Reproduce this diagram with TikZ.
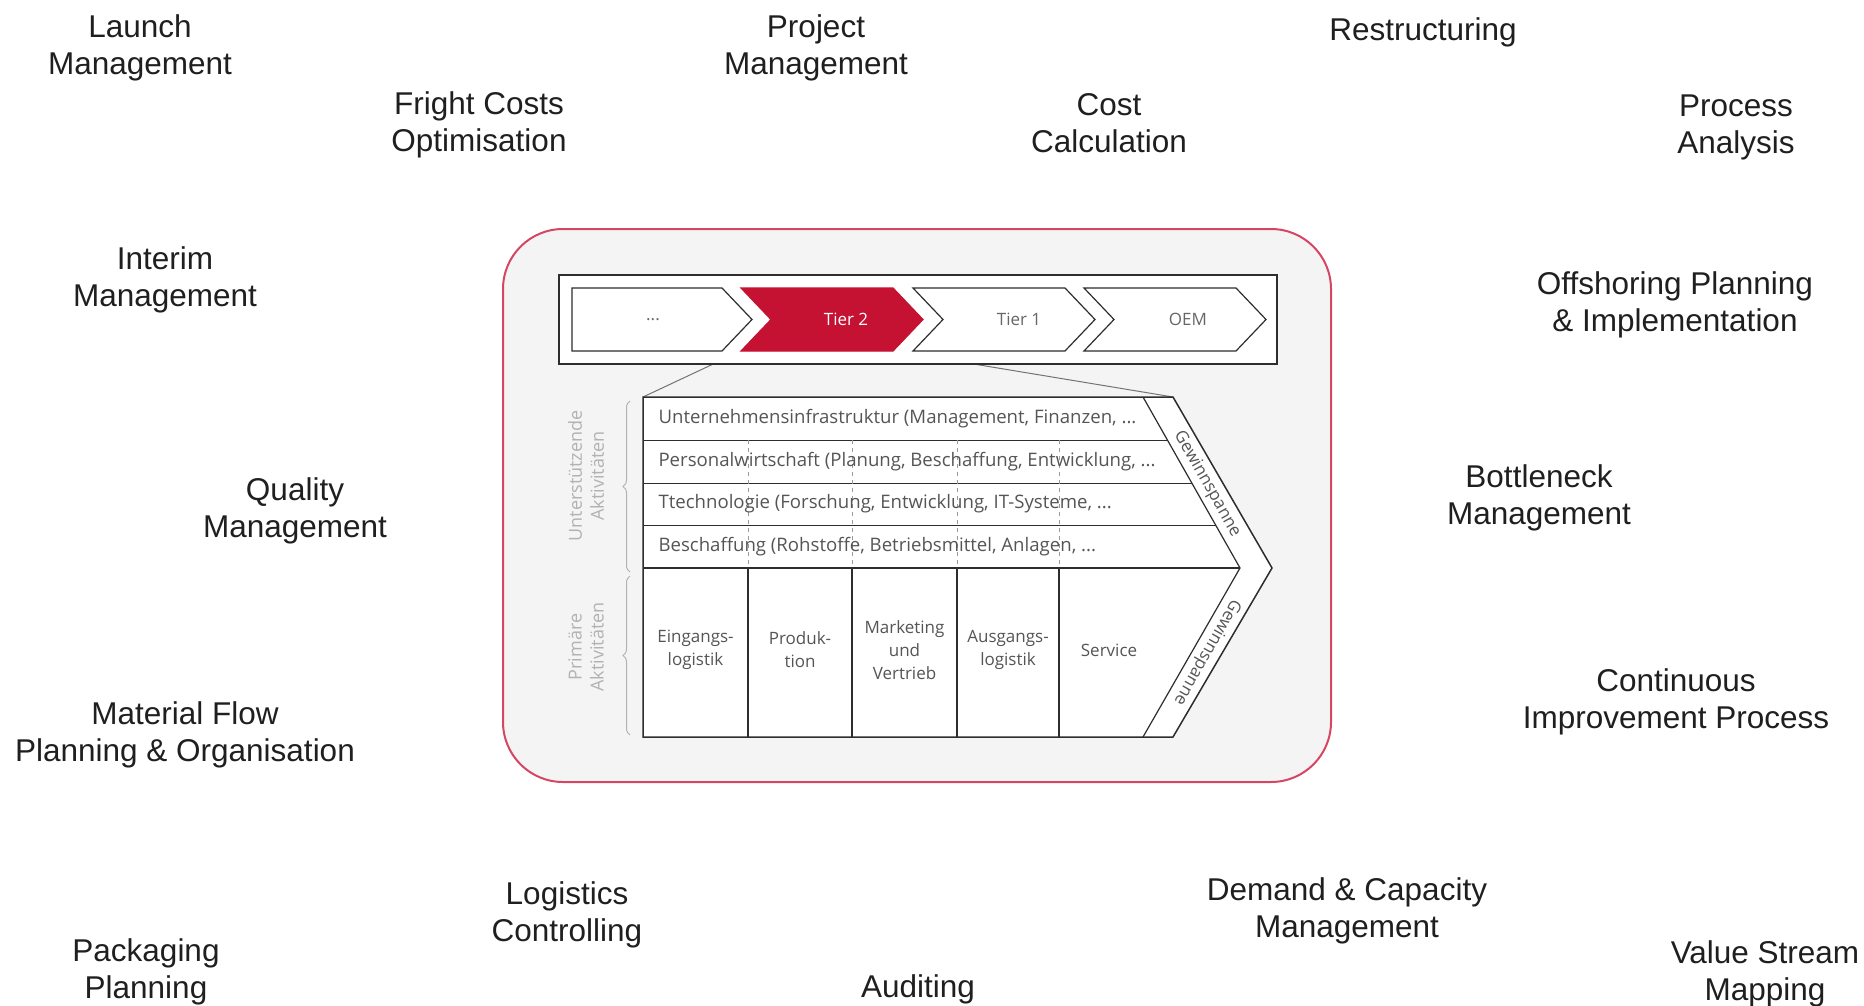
\documentclass[tikz,border=0pt]{standalone}
\usepackage{fontspec}
\setmainfont{Liberation Sans}
\newfontfamily\chainfont{Open Sans}
\usetikzlibrary{decorations.pathreplacing}
\definecolor{tiered}{RGB}{197,17,50}
\definecolor{boxrim}{RGB}{214,70,100}
\definecolor{boxfill}{RGB}{244,244,244}
\definecolor{inktext}{RGB}{85,85,85}
\definecolor{inkline}{RGB}{45,45,45}

\tikzset{
  service/.style={align=center, font=\fontsize{31.5}{37}\selectfont, text=black!88, yshift=-3pt},
  chevron/.style={draw=inkline, line width=1.2pt, fill=white},
  chainlab/.style={font=\chainfont\fontsize{17}{20}\selectfont, text=black!60},
  rowtext/.style={font=\chainfont\fontsize{18.6}{20}\selectfont, text=inktext, anchor=west},
  cell/.style={font=\chainfont\fontsize{17}{23}\selectfont, text=inktext, align=center},
  sidetext/.style={font=\chainfont\fontsize{18}{22}\selectfont, text=black!30, align=center, rotate=90},
  margintext/.style={font=\chainfont\fontsize{17}{20}\selectfont, text=inktext},
}

\begin{document}
\begin{tikzpicture}[x=1pt,y=-1pt]
  \useasboundingbox (0,0) rectangle (1864,1006);

  % services round the frame
  \node[service] (launch)      at (140,45)   {Launch\\Management};
  \node[service] (project)     at (816,45)   {Project\\Management};
  \node[service] (restruct)    at (1423,29)  {Restructuring};
  \node[service] (fright)      at (479,122)  {Fright Costs\\Optimisation};
  \node[service] (costcalc)    at (1109,120) {Cost\\Calculation};
  \node[service] (process)     at (1736,124) {Process\\Analysis};
  \node[service] (interim)     at (165,277)  {Interim\\Management};
  \node[service] (offshoring)  at (1675,302) {Offshoring Planning\\\& Implementation};
  \node[service] (quality)     at (295,508)  {Quality\\Management};
  \node[service] (bottleneck)  at (1539,495) {Bottleneck\\Management};
  \node[service] (matflow)     at (185,732)  {Material Flow\\Planning \& Organisation};
  \node[service] (cip)         at (1676,699) {Continuous\\Improvement Process};
  \node[service] (logctrl)     at (567,912)  {Logistics\\Controlling};
  \node[service] (demand)      at (1347,908) {Demand \& Capacity\\Management};
  \node[service] (packaging)   at (146,969)  {Packaging\\Planning};
  \node[service] (auditing)    at (918,986)  {Auditing};
  \node[service] (vsm)         at (1765,971) {Value Stream\\Mapping};

  % frame round the value chain
  \draw[boxrim, line width=2pt, fill=boxfill, rounded corners=60pt] (503,229) rectangle (1331,782);

  % zoom lines, the bar covers their upper ends
  \coordinate (zoomL) at (643,397);
  \coordinate (zoomR) at (1173,397);
  \coordinate (tierL) at (741,351);
  \coordinate (tierR) at (895,351);
  \draw[black!55, line width=1pt] (tierL) -- (zoomL) (tierR) -- (zoomR);

  % supply chain
  \draw[inkline, line width=1.6pt, fill=white] (559,275) rectangle (1277,364);
  \draw[chevron] (572,288) -- (722,288) -- (752,319.5) -- (722,351) -- (572,351) -- cycle;
  \foreach \xs/\col/\rim in {741/tiered/tiered, 913/white/inkline, 1084/white/inkline}
    \draw[chevron, fill=\col, draw=\rim] (\xs,288) -- ++(152,0) -- ++(30,31.5) -- ++(-30,31.5)
      -- ++(-152,0) -- ++(30,-31.5) -- cycle;
  \node[chainlab] (dots)  at (653,320)  {...};
  \node[chainlab, text=white] (tier2) at (846,319) {Tier 2};
  \node[chainlab] (tier1) at (1019,319) {Tier 1};
  \node[chainlab] (oem)   at (1188,319) {OEM};

  % value chain
  \draw[inkline, line width=1.5pt, fill=white] (643,397) -- (1173,397) -- (1272,568) -- (1173,737) -- (643,737) -- cycle;
  \draw[inkline, line width=1.2pt] (1143,397) -- (1240,568) -- (1143,737);
  \foreach \y/\xe in {440/1167.4, 483/1191.8, 525/1215.6}
    \draw[inkline, line width=0.8pt] (643,\y) -- (\xe,\y);
  \draw[inkline, line width=1.2pt] (643,568) -- (1240,568);
  \foreach \x in {748,852,957,1059} {
    \draw[inkline, line width=1.2pt] (\x,568) -- (\x,737);
    \draw[black!40, line width=0.7pt, dash pattern=on 4pt off 4pt] (\x,440) -- (\x,568);
  }

  \node[rowtext] (infra)    at (655,418.5) {Unternehmensinfrastruktur (Management, Finanzen, ...};
  \node[rowtext] (staff)    at (655,461.5) {Personalwirtschaft (Planung, Beschaffung, Entwicklung, ...};
  \node[rowtext] (techno)   at (655,504)   {Ttechnologie (Forschung, Entwicklung, IT-Systeme, ...};
  \node[rowtext] (purchase) at (655,546.5) {Beschaffung (Rohstoffe, Betriebsmittel, Anlagen, ...};

  \node[cell] (inbound)  at (695.5,650) {Eingangs-\\logistik};
  \node[cell] (produce)  at (800,650)   {Produk-\\tion};
  \node[cell] (market)   at (904.5,650) {Marketing\\und\\Vertrieb};
  \node[cell] (outbound) at (1008,650)  {Ausgangs-\\logistik};
  \node[cell] (service)  at (1109,650)  {Service};

  \node[margintext, rotate=-60.4]  (marginup)  at (1207,484) {Gewinnspanne};
  \node[margintext, rotate=-119.6] (margindn)  at (1207,652) {Gewinnspanne};

  % braces on the left
  \draw[black!30, line width=1pt, decorate, decoration={brace, amplitude=7pt}] (630,572) -- (630,401);
  \draw[black!30, line width=1pt, decorate, decoration={brace, amplitude=7pt}] (630,735) -- (630,576);
  \node[sidetext] (support) at (586,476) {Unterstützende\\Aktivitäten};
  \node[sidetext] (primary) at (586,647) {Primäre\\Aktivitäten};
\end{tikzpicture}
\end{document}
